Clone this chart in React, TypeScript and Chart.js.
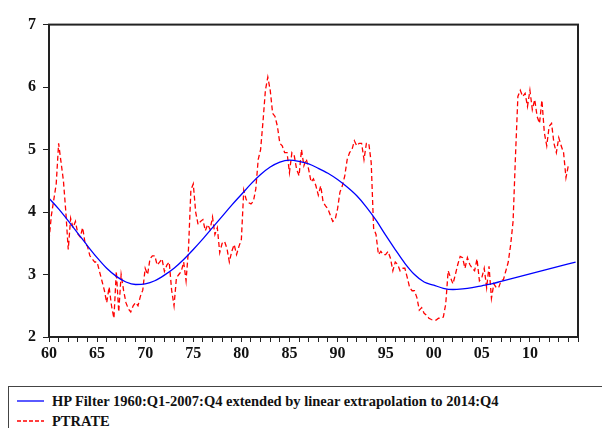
import React, { useEffect, useRef } from "react";
import { Chart, registerables } from "chart.js";

Chart.register(...registerables);

// Quarterly PTRATE, 1960Q1 .. 2014Q1
const PTRATE_START = 1960;
const PTRATE = [
  3.55, 3.95, 4.2, 4.45,
  5.1, 4.8, 4.5, 4.0,
  3.4, 3.9, 3.75, 3.85,
  3.65, 3.6, 3.75, 3.5,
  3.45, 3.3, 3.25, 3.2,
  3.2, 3.05, 2.9, 2.75,
  2.55, 2.8, 2.5, 2.3,
  3.05, 2.4, 3.0, 2.75,
  2.55, 2.45, 2.4, 2.5,
  2.55, 2.5, 2.65, 2.75,
  3.1, 3.0, 3.25, 3.3,
  3.3, 3.15, 3.2, 3.25,
  3.05, 3.15, 3.2, 2.75,
  2.5, 2.95, 3.0, 3.05,
  3.2, 2.9, 3.4, 4.35,
  4.45, 4.0, 3.8, 3.85,
  3.88, 3.7, 3.8, 3.72,
  3.92, 3.64, 3.75, 3.35,
  3.5, 3.53, 3.42, 3.2,
  3.37, 3.48, 3.32, 3.45,
  3.56, 4.35, 4.2, 4.15,
  4.13, 4.17, 4.37, 4.84,
  5.0, 5.45, 5.95, 6.16,
  5.95, 5.58, 5.53, 5.37,
  5.1, 5.06, 4.95, 4.95,
  4.63, 4.95, 4.9, 4.68,
  4.58, 5.0, 4.74, 4.85,
  4.68, 4.48, 4.53, 4.42,
  4.27, 4.42, 4.16, 4.1,
  4.05, 3.95, 3.85, 3.88,
  4.05, 4.32, 4.42, 4.58,
  4.84, 4.95, 5.0, 5.14,
  5.06, 5.1, 5.1, 4.84,
  5.1, 5.1, 4.79, 3.74,
  3.64, 3.32, 3.37, 3.32,
  3.32, 3.37, 3.26, 3.06,
  3.2, 3.16, 3.06, 3.1,
  3.1, 2.95, 2.79, 2.74,
  2.74, 2.63, 2.43, 2.47,
  2.38, 2.35, 2.3, 2.28,
  2.27, 2.27, 2.3, 2.3,
  2.32, 2.53, 3.06, 2.95,
  2.85, 3.0, 3.16, 3.29,
  3.27, 3.1, 3.27, 3.16,
  3.1, 3.06, 3.25, 2.9,
  2.95, 3.1, 2.79, 3.13,
  2.62, 2.85, 2.79, 2.79,
  2.9, 2.92, 3.06, 3.2,
  3.48, 3.85, 4.9, 5.85,
  5.95, 5.85, 5.9, 5.69,
  5.95, 5.64, 5.8, 5.53,
  5.42, 5.79, 5.27, 5.06,
  5.37, 5.42, 5.1, 4.95,
  5.19, 5.06, 4.95, 4.55,
  4.75,
];

// HP filter trend (annual readings, last point 2014:Q4)
const HP_YEARS = [
  1960, 1961, 1962, 1963, 1964, 1965, 1966, 1967, 1968, 1969,
  1970, 1971, 1972, 1973, 1974, 1975, 1976, 1977, 1978, 1979,
  1980, 1981, 1982, 1983, 1984, 1985, 1986, 1987, 1988, 1989,
  1990, 1991, 1992, 1993, 1994, 1995, 1996, 1997, 1998, 1999,
  2000, 2001, 2002, 2003, 2004, 2005, 2006, 2007, 2008, 2009,
  2010, 2011, 2012, 2013, 2014, 2014.75,
];
const HP_VALUES = [
  4.22, 4.05, 3.86, 3.66, 3.46, 3.27, 3.1, 2.97, 2.88, 2.84,
  2.85, 2.9, 2.99, 3.1, 3.24, 3.4, 3.57, 3.75, 3.93, 4.11,
  4.28, 4.45, 4.6, 4.72, 4.8, 4.83, 4.81, 4.77, 4.7, 4.62,
  4.52, 4.4, 4.26, 4.08, 3.87, 3.63, 3.4, 3.18, 3.0, 2.88,
  2.83, 2.78, 2.76, 2.77, 2.79, 2.82, 2.85, 2.89, 2.93, 2.97,
  3.01, 3.05, 3.09, 3.13, 3.17, 3.2,
];

const Y_TICKS = [2, 3, 4, 5, 6, 7];
const X_MIN = 1960;
const X_MAX = 2015;

const LEGEND_HP = "HP Filter 1960:Q1-2007:Q4 extended by linear extrapolation to 2014:Q4";
const LEGEND_PT = "PTRATE";

const FONT = "'Liberation Serif', 'Times New Roman', serif";

const frame = {
  id: "frame",
  afterDraw(chart: any) {
    const { ctx, chartArea } = chart;
    ctx.save();
    ctx.strokeStyle = "#222";
    ctx.lineWidth = 2;
    ctx.strokeRect(chartArea.left, chartArea.top, chartArea.right - chartArea.left, chartArea.bottom - chartArea.top);
    ctx.restore();
  },
};

export default function App() {
  const ref = useRef<HTMLCanvasElement>(null);
  useEffect(() => {
    const ptData = PTRATE.map((v, i) => ({ x: PTRATE_START + i / 4, y: v }));
    const hpData = HP_YEARS.map((x, i) => ({ x, y: HP_VALUES[i] }));
    const chart = new Chart(ref.current!, {
      type: "line",
      data: {
        datasets: [
          {
            label: LEGEND_HP,
            data: hpData,
            borderColor: "#0000ff",
            borderWidth: 1.3,
            pointRadius: 0,
            cubicInterpolationMode: "monotone",
          },
          {
            label: LEGEND_PT,
            data: ptData,
            borderColor: "#ff0000",
            borderWidth: 1.3,
            borderDash: [5, 3],
            pointRadius: 0,
            tension: 0,
          },
        ],
      },
      plugins: [frame],
      options: {
        animation: false,
        responsive: false,
        layout: { padding: { left: 0, right: 32, top: 12, bottom: 8 } },
        plugins: { legend: { display: false }, tooltip: { enabled: false } },
        scales: {
          x: {
            type: "linear",
            min: X_MIN,
            max: X_MAX,
            afterFit(s: any) { s.height = 33; },
            afterBuildTicks(s: any) {
              const t = [];
              for (let y = X_MIN; y <= X_MAX; y++) t.push({ value: y });
              s.ticks = t;
            },
            ticks: {
              autoSkip: false,
              maxRotation: 0,
              padding: 2,
              color: "#111",
              font: { family: FONT, size: 16, weight: "bold" },
              callback: (v: any) => {
                const n = Number(v);
                if (n % 5 !== 0 || n >= 2015) return "";
                return String(n % 100).padStart(2, "0");
              },
            },
            grid: { drawOnChartArea: false, tickLength: 5, color: "#222", tickWidth: 1 },
            border: { display: true, color: "#222", width: 2 },
          },
          y: {
            min: 2,
            max: 7,
            afterFit(s: any) { s.width = 41; },
            afterBuildTicks(s: any) { s.ticks = Y_TICKS.map((v) => ({ value: v })); },
            ticks: {
              padding: 7,
              color: "#111",
              font: { family: FONT, size: 16, weight: "bold" },
            },
            grid: { drawOnChartArea: false, tickLength: 6, color: "#222", tickWidth: 1 },
            border: { display: true, color: "#222", width: 2 },
          },
        },
      },
    });
    return () => chart.destroy();
  }, []);

  const row: React.CSSProperties = { display: "flex", alignItems: "center", height: 20 };
  return (
    <div style={{ width: 602, overflow: "hidden" }}>
      <canvas ref={ref} width={602} height={370} style={{ display: "block" }} />
      <div
        style={{
          marginTop: 8,
          width: 640,
          height: 60,
          borderTop: "1px solid #444",
          borderLeft: "1px solid #444",
          boxSizing: "border-box",
          paddingTop: 4,
          fontFamily: FONT,
          fontWeight: "bold",
          fontSize: 14.5,
          color: "#111",
        }}
      >
        <div style={row}>
          <svg width={35} height={4} style={{ marginLeft: 8 }}>
            <line x1={0} y1={2} x2={27} y2={2} stroke="#0000ff" strokeWidth={1.3} />
          </svg>
          <span>{LEGEND_HP}</span>
        </div>
        <div style={row}>
          <svg width={35} height={4} style={{ marginLeft: 8 }}>
            <line x1={0} y1={2} x2={27} y2={2} stroke="#ff0000" strokeWidth={1.3} strokeDasharray="4 2" />
          </svg>
          <span>{LEGEND_PT}</span>
        </div>
      </div>
    </div>
  );
}
